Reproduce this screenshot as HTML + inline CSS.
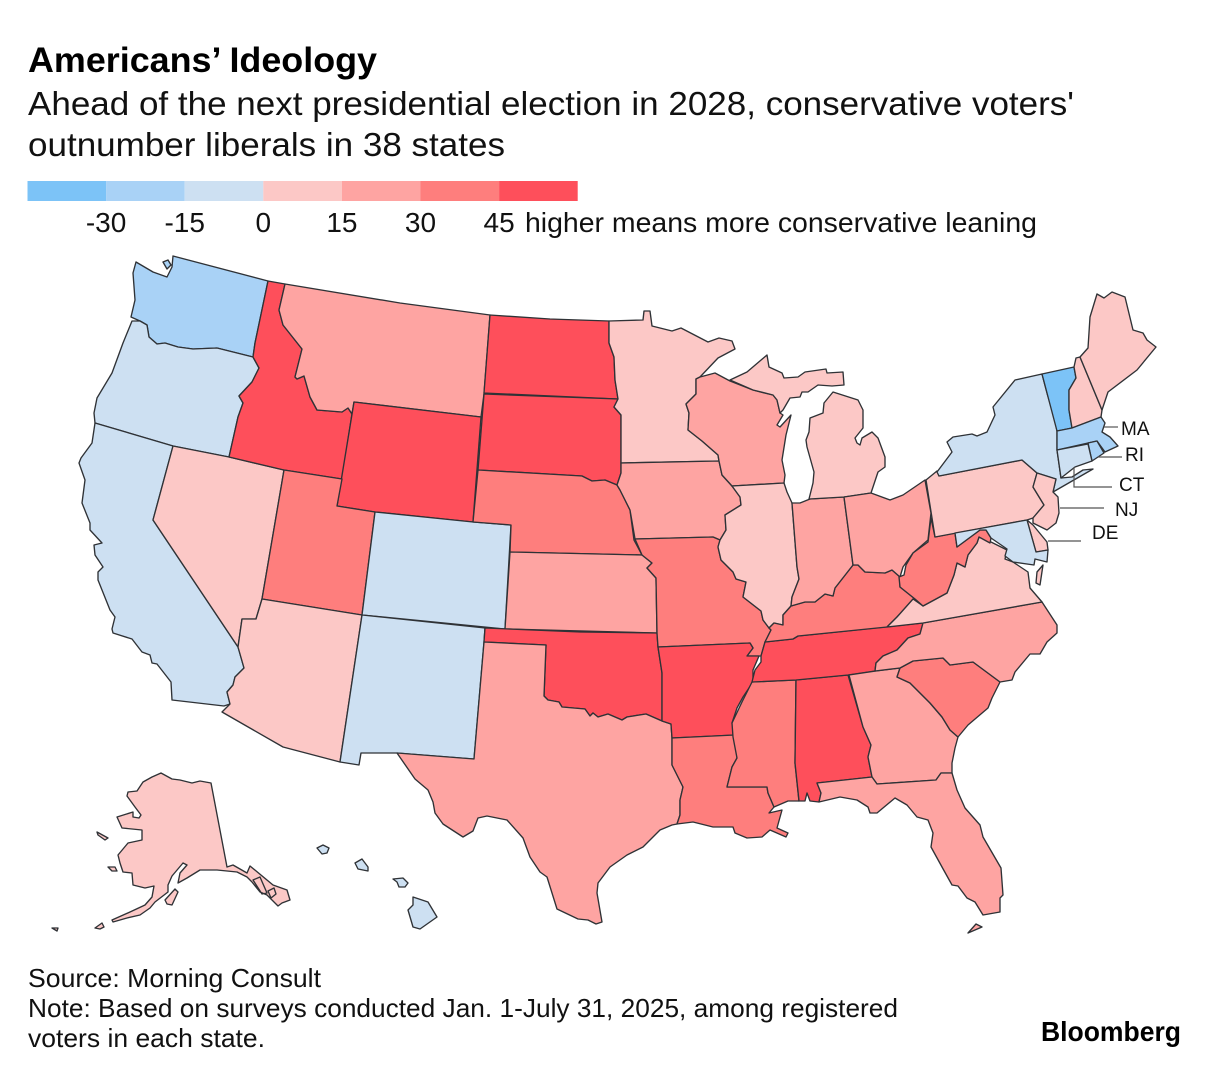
<!DOCTYPE html>
<html lang="en">
<head>
<meta charset="utf-8">
<title>Americans' Ideology</title>
<style>
  html, body { margin: 0; padding: 0; background: #fff; }
  svg { display: block; font-family: "Liberation Sans", sans-serif; }
  .state { stroke: #2f3236; stroke-width: 1.35; stroke-linejoin: round; }
  .leader { stroke: #555; stroke-width: 1.2; fill: none; }
  .callout { font-size: 19px; fill: #111; }
  .tick { font-size: 28px; fill: #111; text-anchor: middle; }
</style>
</head>
<body>
<svg id="chart" xmlns="http://www.w3.org/2000/svg" width="1219" height="1076" viewBox="0 0 1219 1076">
  <rect width="1219" height="1076" fill="#ffffff"/>
  <text x="28" y="72" font-size="35" font-weight="700" fill="#000" textLength="349" lengthAdjust="spacingAndGlyphs">Americans’ Ideology</text>
  <text x="28" y="115" font-size="33" fill="#111" textLength="1046" lengthAdjust="spacingAndGlyphs">Ahead of the next presidential election in 2028, conservative voters'</text>
  <text x="28" y="156" font-size="33" fill="#111" textLength="477" lengthAdjust="spacingAndGlyphs">outnumber liberals in 38 states</text>
  <g id="legend"></g>
  <text x="525" y="232" font-size="28" fill="#111" textLength="512" lengthAdjust="spacingAndGlyphs">higher means more conservative leaning</text>
  <g id="map"></g>
  <g>
    <path class="leader" d="M1104 427H1118"/>
    <path class="leader" d="M1098 457H1122"/>
    <path class="leader" d="M1074 467V487H1112"/>
    <path class="leader" d="M1060 508H1104"/>
    <path class="leader" d="M1048 541H1081"/>
    <text class="callout" x="1121" y="435">MA</text>
    <text class="callout" x="1125" y="461">RI</text>
    <text class="callout" x="1119" y="491">CT</text>
    <text class="callout" x="1115" y="516">NJ</text>
    <text class="callout" x="1092" y="539">DE</text>
  </g>
  <text x="28" y="987" font-size="26" fill="#111" textLength="293" lengthAdjust="spacingAndGlyphs">Source: Morning Consult</text>
  <text x="28" y="1017" font-size="26" fill="#111" textLength="870" lengthAdjust="spacingAndGlyphs">Note: Based on surveys conducted Jan. 1-July 31, 2025, among registered</text>
  <text x="28" y="1047" font-size="26" fill="#111" textLength="237" lengthAdjust="spacingAndGlyphs">voters in each state.</text>
  <text x="1041" y="1041" font-size="28" font-weight="700" fill="#000" textLength="140" lengthAdjust="spacingAndGlyphs">Bloomberg</text>
</svg>
<script>
// Legend data
const legendBreaks = [-45, -30, -15, 0, 15, 30, 45, 60];
const legendColors = ['#7cc3f7', '#a9d2f6', '#cde0f2', '#fcc8c6', '#fea4a2', '#fe7e7d', '#fe4f5b'];
const legendTicks = [-30, -15, 0, 15, 30, 45];

// Net conservative lean by state (estimated from the colour bands)
const stateCodes = ['WA','OR','CA','NV','ID','MT','WY','UT','CO','AZ','NM','ND','SD','NE','KS','OK','TX','MN','IA','MO','AR','LA','WI','IL','MS','AL','TN','KY','IN','MI','OH','GA','FL','SC','NC','VA','WV','PA','NY','VT','NH','ME','MA','RI','CT','NJ','DE','MD','AK','HI'];
const stateValues = [-22,-8,-10,8,50,25,55,35,-5,8,-5,50,50,35,28,50,25,10,20,35,50,35,20,8,35,50,50,38,22,8,20,22,20,35,22,10,40,8,-8,-38,8,8,-20,-18,-8,8,8,-12,10,-12];

const stateShapes = {
  WA: ['136,262 133,273 135,300 131,317 140,321 147,325 149,337 157,344 165,343 178,347 193,349 217,348 253,357 255,343 268,281 173,256 172,267 167,277 153,272', '163,262 168,260 171,265 167,269'],
  OR: ['132,321 140,321 147,325 149,337 157,344 165,343 178,347 193,349 217,348 253,357 259,368 252,382 239,396 243,403 238,417 229,457 173,446 95,423 94,413 97,398 112,373 123,343'],
  CA: ['95,423 173,446 153,520 238,647 244,668 235,677 233,685 227,692 230,704 224,706 172,700 171,682 157,664 152,663 150,655 142,652 132,639 113,633 112,629 115,617 110,610 98,580 98,572 103,567 95,555 94,545 102,543 90,530 90,523 82,503 85,480 79,463 81,458 92,443'],
  NV: ['173,446 229,457 284,470 262,599 256,619 242,619 238,647 153,520'],
  ID: ['268,281 285,284 279,310 283,325 302,349 295,377 297,379 304,376 310,397 317,410 342,412 348,408 352,414 342,479 284,470 229,457 238,417 243,403 239,396 252,382 259,368 253,357 255,343'],
  MT: ['285,284 400,303 490,315 484,394 481,417 354,402 352,414 348,408 342,412 317,410 310,397 304,376 297,379 295,377 302,349 283,325 279,310'],
  WY: ['354,402 481,417 473,522 375,512 337,506'],
  UT: ['284,470 342,479 337,506 375,512 362,615 262,599'],
  CO: ['375,512 473,522 511,525 505,629 362,615'],
  AZ: ['262,599 362,615 340,762 283,747 222,712 230,704 227,692 233,685 235,677 244,668 238,647 242,619 256,619'],
  NM: ['362,615 485,628 484,642 474,759 397,753 361,753 359,765 340,762'],
  ND: ['490,315 550,319 609,321 609,343 614,357 615,380 618,399 484,393'],
  SD: ['484,394 618,399 614,407 621,415 621,473 617,485 605,480 592,481 582,476 478,470'],
  NE: ['478,470 582,476 592,481 605,480 617,485 620,490 630,510 634,540 642,555 510,552 511,525 473,522'],
  KS: ['510,552 642,555 652,563 647,568 656,578 657,633 505,629'],
  OK: ['485,628 580,632 657,633 658,647 662,673 662,721 646,714 627,717 622,720 608,714 598,717 593,713 590,716 585,709 562,707 559,702 548,700 544,696 546,645 484,642'],
  TX: ['484,642 546,645 544,696 548,700 559,702 562,707 585,709 590,716 593,713 598,717 608,714 622,720 627,717 646,714 662,721 671,724 672,738 672,765 683,787 680,800 680,815 677,824 672,825 660,830 643,847 627,855 610,867 598,883 597,893 602,922 596,924 588,920 578,919 557,909 547,877 540,872 530,857 523,838 507,820 487,816 478,818 473,831 463,837 443,824 435,813 433,802 428,790 415,779 397,753 474,759'],
  MN: ['609,321 643,320 644,311 650,311 652,326 672,331 681,328 708,342 719,338 732,341 735,349 718,358 700,377 696,379 696,394 686,404 689,413 688,430 702,441 718,455 719,461 621,463 621,415 614,407 618,399 615,380 614,357 609,343'],
  IA: ['621,463 719,461 722,475 732,486 740,497 741,505 725,515 726,530 720,540 713,537 635,539 630,510 620,490 617,485 621,473'],
  MO: ['635,539 713,537 720,540 718,547 721,560 733,572 736,579 746,582 743,597 761,611 763,620 769,628 771,630 765,642 761,656 747,656 753,648 750,643 658,647 657,633 656,578 647,568 652,563 642,555'],
  AR: ['658,647 750,643 753,648 747,656 759,656 753,670 753,682 743,697 737,708 732,723 735,735 672,738 671,724 662,721 662,673'],
  LA: ['672,738 735,735 737,758 732,767 727,787 767,787 768,793 774,807 769,813 782,810 777,828 788,833 786,837 770,830 762,837 747,838 735,833 733,827 713,827 693,822 677,824 680,815 680,800 683,787 672,765'],
  WI: ['696,379 700,377 715,373 730,381 753,390 773,395 777,400 780,413 783,415 777,425 780,427 791,415 786,435 782,460 785,475 784,483 732,486 722,475 719,461 718,455 702,441 688,430 689,413 686,404 696,394'],
  IL: ['732,486 784,483 787,492 792,503 797,567 799,579 792,597 791,606 783,615 783,625 774,623 769,628 763,620 761,611 743,597 746,582 736,579 733,572 721,560 718,547 720,540 726,530 725,515 741,505 740,497'],
  IN: ['792,503 800,503 810,499 844,497 853,565 835,588 833,596 825,594 815,602 805,602 791,606 792,597 799,579 797,567'],
  MI: ['809,499 813,483 814,472 807,447 806,440 809,432 810,418 823,413 824,403 833,392 858,400 863,410 863,428 855,438 857,443 860,445 862,438 872,432 878,438 885,457 885,467 878,472 871,493 844,497', '730,380 747,372 767,355 769,367 782,373 784,378 798,377 805,372 826,369 827,373 843,372 844,385 832,386 818,385 808,392 802,392 800,397 790,398 783,410 780,413 777,400 773,395 753,390'],
  OH: ['844,497 871,493 890,500 903,495 925,480 931,513 928,540 913,553 903,567 900,577 892,570 885,573 865,572 858,565 853,565'],
  KY: ['853,565 858,565 865,572 885,573 892,570 900,577 900,587 915,599 897,617 887,627 798,636 793,639 765,642 771,630 769,628 774,623 783,625 783,615 791,606 805,602 815,602 825,594 833,596 835,588'],
  TN: ['765,642 793,639 798,636 923,623 920,634 908,638 897,650 883,656 876,663 875,671 848,675 796,680 752,682 755,670 761,662 761,656'],
  MS: ['752,682 796,680 795,763 799,801 788,801 774,807 768,793 767,787 727,787 732,767 737,758 733,737 732,723 742,702'],
  AL: ['796,680 848,675 863,727 871,745 868,757 872,777 817,783 821,793 819,802 810,801 807,793 805,801 799,801 795,763'],
  GA: ['849,675 876,671 900,668 897,677 910,683 930,703 942,717 950,730 958,737 955,748 952,763 952,773 941,773 936,780 877,784 872,777 868,757 871,745 863,727'],
  FL: ['877,784 936,780 941,773 952,773 957,790 965,808 980,825 983,837 1001,868 1003,895 1000,898 1000,912 983,915 975,902 967,898 958,886 952,885 942,867 931,847 933,833 928,820 917,817 907,805 895,798 877,813 870,813 868,807 857,800 840,797 819,802 821,793 817,783 872,777', '968,933 976,924 982,927'],
  SC: ['900,668 913,661 943,658 950,665 973,662 1000,682 992,698 988,708 968,725 958,737 950,730 942,717 930,703 910,683 897,677'],
  NC: ['923,623 1042,602 1057,625 1057,633 1047,642 1040,654 1030,654 1015,672 1012,680 1000,682 973,662 950,665 943,658 913,661 900,668 875,671 876,663 883,656 897,650 908,638 920,634'],
  VA: ['991,542 979,537 977,543 968,555 965,567 957,563 954,575 947,593 923,606 913,599 897,617 887,627 923,623 1042,602 1030,588 1028,572 1013,562 1005,559 1007,550', '1043,565 1040,585 1036,583 1037,572'],
  WV: ['931,518 935,537 955,533 957,547 980,530 986,530 991,538 990,543 979,537 977,543 968,555 965,567 957,563 954,575 947,593 923,606 915,599 900,587 899,577 904,575 906,565 913,553 928,542'],
  MD: ['955,533 1027,520 1036,552 1048,550 1047,562 1035,559 1034,565 1013,562 1005,556 1007,549 991,538 986,530 980,530 957,547'],
  DE: ['1027,520 1033,525 1047,542 1048,550 1036,552'],
  PA: ['926,480 937,471 939,476 1022,460 1037,473 1033,487 1044,505 1033,518 1027,520 935,537'],
  NY: ['939,476 937,472 952,452 947,442 953,437 972,434 977,436 987,432 995,415 993,407 1015,380 1042,374 1047,393 1055,420 1057,431 1057,450 1061,478 1072,477 1083,470 1093,469 1053,492 1056,479 1037,473 1022,460'],
  NJ: ['1037,473 1056,479 1053,492 1058,497 1059,513 1056,523 1047,530 1033,523 1033,518 1044,505 1033,487'],
  CT: ['1057,450 1088,444 1092,461 1075,467 1061,478'],
  RI: ['1088,443 1097,441 1104,453 1092,461'],
  MA: ['1057,431 1072,428 1101,417 1105,423 1102,432 1110,437 1118,446 1105,452 1097,441 1088,443 1057,450'],
  VT: ['1042,374 1074,367 1076,378 1069,390 1069,410 1072,428 1057,431 1047,393'],
  NH: ['1076,358 1080,357 1102,410 1101,417 1072,428 1069,410 1069,390 1076,378 1074,367'],
  ME: ['1080,357 1088,348 1090,317 1097,294 1104,298 1112,292 1125,297 1133,330 1143,333 1147,340 1156,347 1137,370 1108,392 1102,410'],
  AK: ['211,783 200,781 192,783 180,780 172,779 161,773 152,777 143,782 137,791 128,792 127,796 135,807 141,815 139,818 133,817 133,812 117,817 122,828 142,830 142,840 128,843 118,855 120,863 123,872 132,873 133,885 145,888 154,886 152,897 145,905 130,912 112,920 113,922 127,918 140,915 150,908 155,902 168,892 168,885 172,876 183,863 187,865 180,873 178,883 187,878 200,870 217,870 237,872 247,877 252,882 260,892 267,895 278,906 282,903 290,900 287,890 273,885 250,866 247,873 233,865 227,867', '165,900 175,889 178,892 172,905 167,904', '97,832 108,838 105,840 98,835', '108,867 115,867 117,871 112,871', '95,928 102,923 104,927 100,929', '52,928 58,928 57,931', '262,894 267,893 260,877 253,880', '271,898 276,894 274,888 268,891'],
  HI: ['317,848 323,845 329,848 327,853 322,854', '355,863 362,859 368,867 368,871 358,869', '393,879 403,878 408,883 405,887 399,887 397,882', '413,897 428,902 437,917 420,929 413,927 408,910 413,905']
};

const SVG_NS = 'http://www.w3.org/2000/svg';
const legendGroup = document.getElementById('legend');
const mapGroup = document.getElementById('map');

function legendX(value) {
  return 263.3 + value * 5.24;
}

function colorFor(value) {
  for (let i = 0; i < legendColors.length; i++) {
    if (value < legendBreaks[i + 1]) return legendColors[i];
  }
  return legendColors[legendColors.length - 1];
}

legendColors.forEach(function (color, i) {
  const seg = document.createElementNS(SVG_NS, 'rect');
  
  
  seg.setAttribute('x', legendX(legendBreaks[i]));
  seg.setAttribute('y', 181);
  seg.setAttribute('width', legendX(legendBreaks[i + 1]) - legendX(legendBreaks[i]));
  seg.setAttribute('height', 20);
  seg.setAttribute('fill', color);
  legendGroup.appendChild(seg);
});

legendTicks.forEach(function (tick) {
  const label = document.createElementNS(SVG_NS, 'text');
  
  
  label.setAttribute('class', 'tick');
  label.setAttribute('x', legendX(tick));
  label.setAttribute('y', 232);
  label.textContent = String(tick);
  legendGroup.appendChild(label);
});

stateCodes.forEach(function (code, i) {
  const d = stateShapes[code].map(function (ring) { return 'M' + ring + 'Z'; }).join('');
  const shape = document.createElementNS(SVG_NS, 'path');
  
  
  shape.setAttribute('class', 'state');
  shape.setAttribute('d', d);
  shape.setAttribute('fill', colorFor(stateValues[i]));
  mapGroup.appendChild(shape);
});
</script>
</body>
</html>
